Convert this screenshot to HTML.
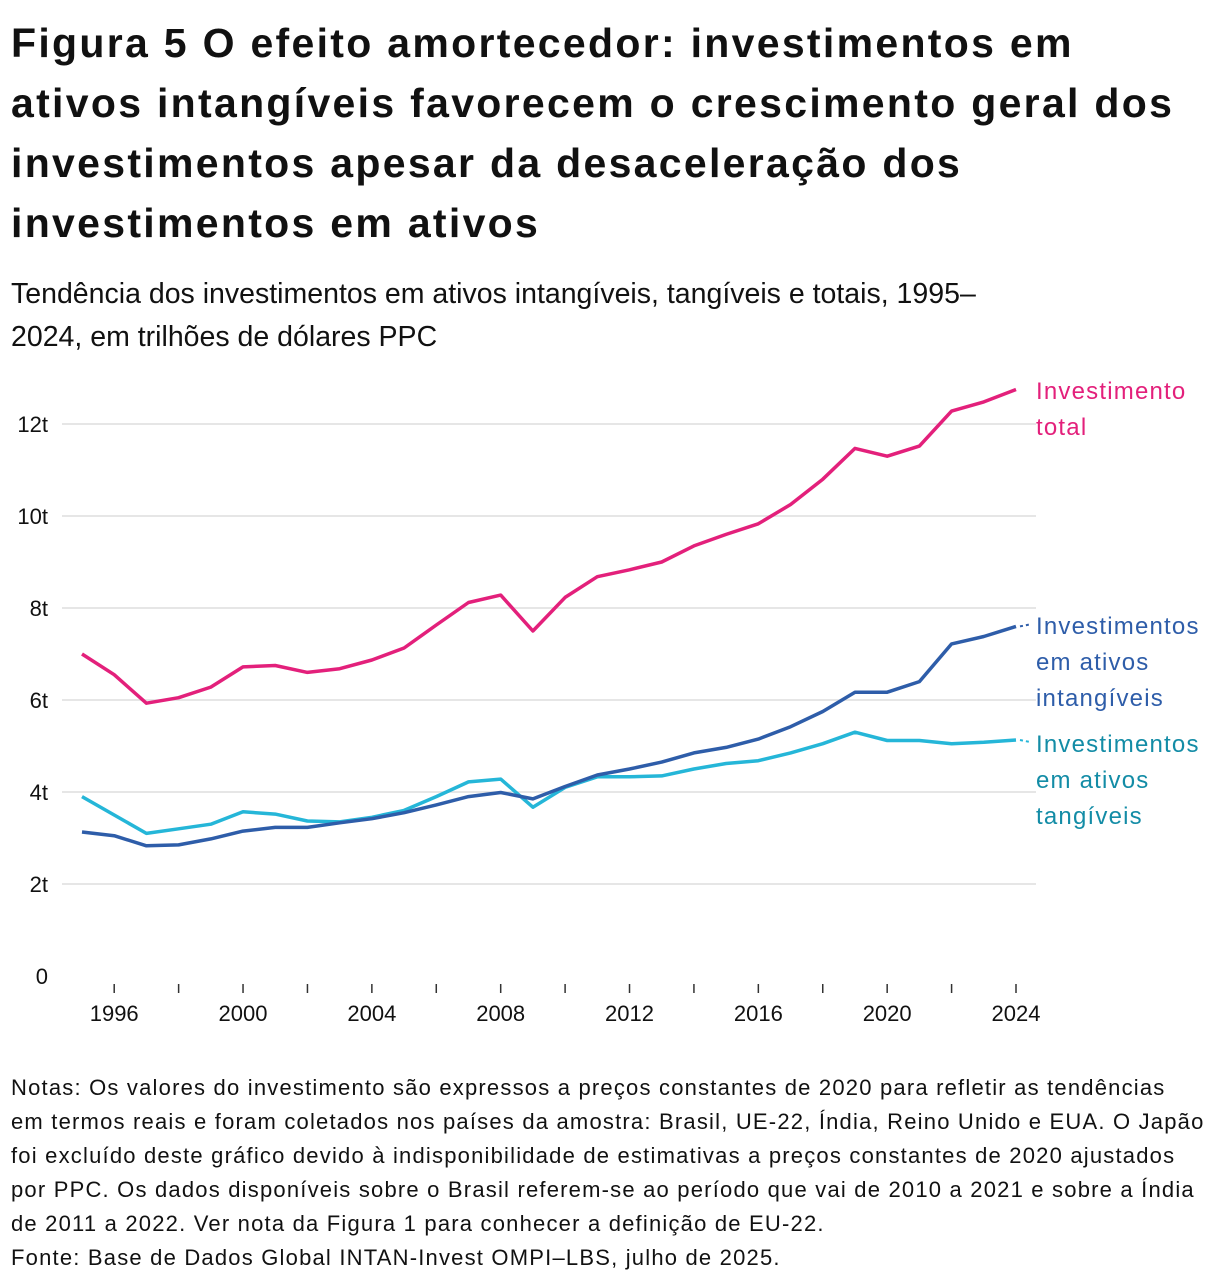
<!DOCTYPE html>
<html><head><meta charset="utf-8"><style>
body{margin:0;width:1220px;height:1288px;background:#fff;font-family:"Liberation Sans","Noto Sans CJK JP",sans-serif;color:#111;position:relative;overflow:hidden}
.t{position:absolute;left:11px;top:13px;font-size:41px;letter-spacing:2.3px;font-weight:bold;line-height:60px;margin:0;white-space:nowrap}
.s{position:absolute;left:11px;top:273px;font-size:28.5px;line-height:43px;white-space:nowrap}
.n{position:absolute;left:11px;top:1071px;font-size:22px;letter-spacing:1.2px;line-height:34px;white-space:nowrap}
svg{position:absolute;left:0;top:0}
</style></head><body>
<h1 class="t">Figura 5 O efeito amortecedor: investimentos em<br>ativos intangíveis favorecem o crescimento geral dos<br>investimentos apesar da desaceleração dos<br>investimentos em ativos</h1>
<div class="s">Tendência dos investimentos em ativos intangíveis, tangíveis e totais, 1995–<br>2024, em trilhões de dólares PPC</div>
<svg id="c" width="1220" height="1288"></svg>
<div class="n">Notas: Os valores do investimento são expressos a preços constantes de 2020 para refletir as tendências<br>em termos reais e foram coletados nos países da amostra: Brasil, UE-22, Índia, Reino Unido e EUA. O Japão<br>foi excluído deste gráfico devido à indisponibilidade de estimativas a preços constantes de 2020 ajustados<br>por PPC. Os dados disponíveis sobre o Brasil referem-se ao período que vai de 2010 a 2021 e sobre a Índia<br>de 2011 a 2022. Ver nota da Figura 1 para conhecer a definição de EU-22.<br>Fonte: Base de Dados Global INTAN-Invest OMPI–LBS, julho de 2025.</div>
<script>
const years=[1995,1996,1997,1998,1999,2000,2001,2002,2003,2004,2005,2006,2007,2008,2009,2010,2011,2012,2013,2014,2015,2016,2017,2018,2019,2020,2021,2022,2023,2024];
const total=[7.0,6.55,5.93,6.05,6.28,6.72,6.75,6.6,6.68,6.87,7.13,7.63,8.12,8.28,7.5,8.23,8.68,8.83,9.0,9.35,9.6,9.83,10.25,10.8,11.47,11.3,11.52,12.28,12.48,12.75];
const intangible=[3.13,3.05,2.83,2.85,2.98,3.15,3.23,3.23,3.33,3.42,3.55,3.72,3.9,3.99,3.85,4.12,4.37,4.5,4.65,4.85,4.97,5.15,5.42,5.75,6.17,6.17,6.4,7.22,7.38,7.6];
const tangible=[3.9,3.5,3.1,3.2,3.3,3.57,3.52,3.37,3.35,3.45,3.6,3.9,4.22,4.28,3.67,4.1,4.33,4.33,4.35,4.5,4.62,4.68,4.85,5.05,5.3,5.12,5.12,5.05,5.08,5.13];
const yTicks=[0,2,4,6,8,10,12];
const yTickLabels=["0","2t","4t","6t","8t","10t","12t"];
const xLabelYears=[1996,2000,2004,2008,2012,2016,2020,2024];
const xs=y=>82+(y-1995)*(1016-82)/29;
const ys=v=>976-v*46;
const svg=document.getElementById('c');const NS='http://www.w3.org/2000/svg';
function mk(t,a,txt){const e=document.createElementNS(NS,t);for(const k in a)e.setAttribute(k,a[k]);if(txt)e.textContent=txt;svg.appendChild(e);return e;}
yTicks.forEach((v,i)=>{
 if(v>0){const g=mk('line',{x1:62,x2:1036,y1:ys(v),y2:ys(v),stroke:'#dedede','stroke-width':1.5});
 
 }
 const t=mk('text',{x:48,y:ys(v)+8,'text-anchor':'end','font-size':22,fill:'#111'},yTickLabels[i]);
 
 
});
for(let y=1996;y<=2024;y+=2){const l=mk('line',{x1:xs(y),x2:xs(y),y1:984,y2:993,stroke:'#333','stroke-width':1.5});
 
 }
xLabelYears.forEach(y=>{const t=mk('text',{x:xs(y),y:1021,'text-anchor':'middle','font-size':22,fill:'#111'},String(y));
 
 });
function line(arr,col,name){const d=arr.map((v,i)=>(i?'L':'M')+xs(years[i]).toFixed(1)+' '+ys(v).toFixed(1)).join(' ');
 const p=mk('path',{d:d,fill:'none',stroke:col,'stroke-width':3.5,'stroke-linejoin':'round'});
 
 }
line(tangible,'#25b6d8','tangible-line');
line(intangible,'#2e5da9','intangible-line');
line(total,'#e3207b','total-line');
const last=years.length-1;
const l1=mk('line',{x1:xs(2024)+4,x2:1030,y1:ys(intangible[last]),y2:ys(intangible[last])-2,stroke:'#2e5da9','stroke-width':2,'stroke-dasharray':'3 3'});


const l2=mk('line',{x1:xs(2024)+4,x2:1030,y1:ys(tangible[last]),y2:ys(tangible[last])+2,stroke:'#25b6d8','stroke-width':2,'stroke-dasharray':'3 3'});


function lab(lines,y0,col,name){const t=mk('text',{x:1036,y:y0,'font-size':24,'letter-spacing':1.2,fill:col});
 
 
 lines.forEach((s,i)=>{const ts=document.createElementNS(NS,'tspan');ts.setAttribute('x',1036);ts.setAttribute('y',y0+i*36);ts.textContent=s;t.appendChild(ts);});}
lab(['Investimento','total'],399,'#e3207b','total-label');
lab(['Investimentos','em ativos','intangíveis'],634,'#2e5da9','intangible-label');
lab(['Investimentos','em ativos','tangíveis'],752,'#138ca6','tangible-label');
</script>
</body></html>
